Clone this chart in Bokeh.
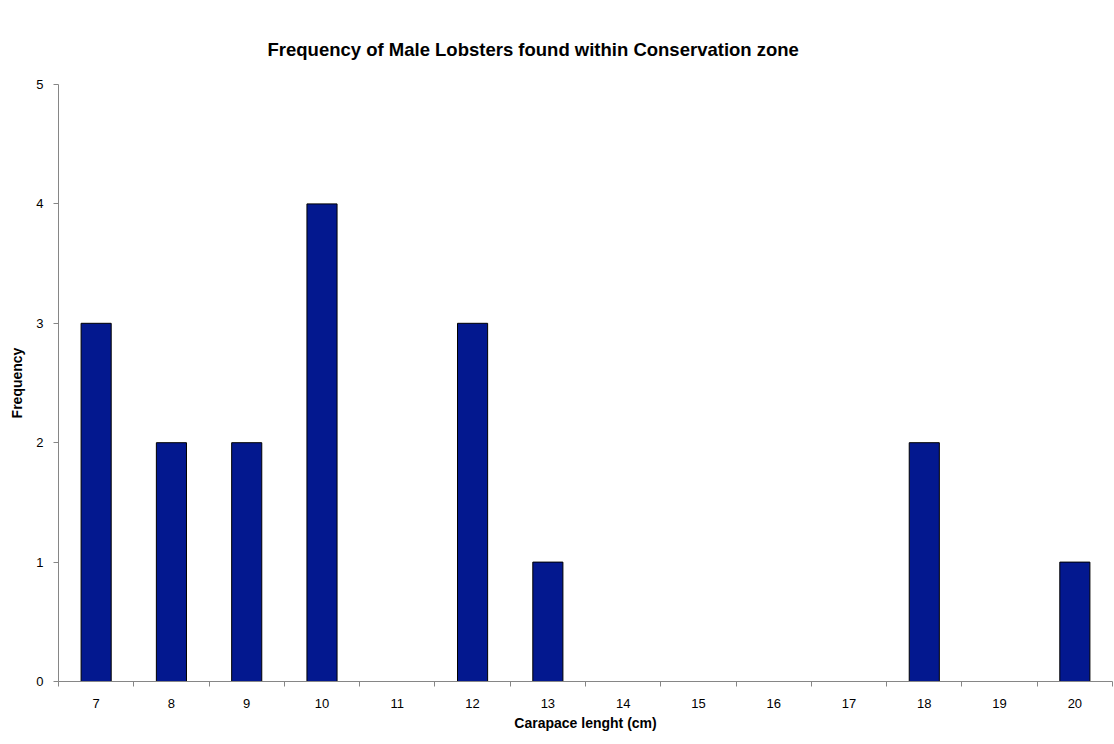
from bokeh.plotting import figure
from bokeh.models import Range1d, FixedTicker
from bokeh.embed import file_html
from bokeh.resources import INLINE

# Carapace length classes (cm) and number of male lobsters in each
lengths = [7, 8, 9, 10, 11, 12, 13, 14, 15, 16, 17, 18, 19, 20]
counts = [3, 2, 2, 4, 0, 3, 1, 0, 0, 0, 0, 2, 0, 1]
y_ticks = [0, 1, 2, 3, 4, 5]

FONT = "Liberation Sans"
AXIS_GREY = "#868686"
BAR_BLUE = "#03188F"

p = figure(
    width=1114, height=744,
    output_backend="svg", toolbar_location=None,
    x_range=Range1d(lengths[0] - 0.5, lengths[-1] + 0.5),
    y_range=Range1d(0, 5),
    min_border_left=58, min_border_right=2,
    min_border_top=84, min_border_bottom=63,
)
p.outline_line_color = None
p.grid.visible = False
p.background_fill_color = "white"
p.border_fill_color = "white"

p.vbar(x=lengths, top=counts, width=0.4,
       fill_color=BAR_BLUE, line_color="#000000", line_width=1)

# title
p.title.text = "Frequency of Male Lobsters found within Conservation zone"
p.title.text_font = FONT
p.title.text_font_size = "18.5px"
p.title.text_font_style = "bold"
p.title.text_color = "black"
p.title.align = "left"
p.title.offset = 209
p.title.standoff = 50

# x axis: labels at class centres, tick marks on class boundaries
boundaries = [v - 0.5 for v in lengths] + [lengths[-1] + 0.5]
xa = p.xaxis[0]
xa.ticker = FixedTicker(ticks=lengths, minor_ticks=boundaries)
xa.major_tick_out = 0
xa.major_tick_in = 0
xa.minor_tick_out = 5
xa.minor_tick_in = 0
xa.minor_tick_line_color = AXIS_GREY
xa.axis_line_color = AXIS_GREY
xa.major_label_text_font = FONT
xa.major_label_text_font_size = "13px"
xa.major_label_text_color = "black"
xa.major_label_standoff = 12
xa.axis_label = "Carapace lenght (cm)"
xa.axis_label_text_font = FONT
xa.axis_label_text_font_size = "14px"
xa.axis_label_text_font_style = "bold"
xa.axis_label_text_color = "black"
xa.axis_label_standoff = 4

# y axis
ya = p.yaxis[0]
ya.ticker = FixedTicker(ticks=y_ticks, minor_ticks=[])
ya.major_tick_out = 5
ya.major_tick_in = 0
ya.major_tick_line_color = AXIS_GREY
ya.axis_line_color = AXIS_GREY
ya.major_label_text_font = FONT
ya.major_label_text_font_size = "13px"
ya.major_label_text_color = "black"
ya.major_label_standoff = 10
ya.axis_label = "Frequency"
ya.axis_label_text_font = FONT
ya.axis_label_text_font_size = "14px"
ya.axis_label_text_font_style = "bold"
ya.axis_label_text_color = "black"
ya.axis_label_standoff = 8

open("out.html", "w").write(file_html(p, INLINE))
